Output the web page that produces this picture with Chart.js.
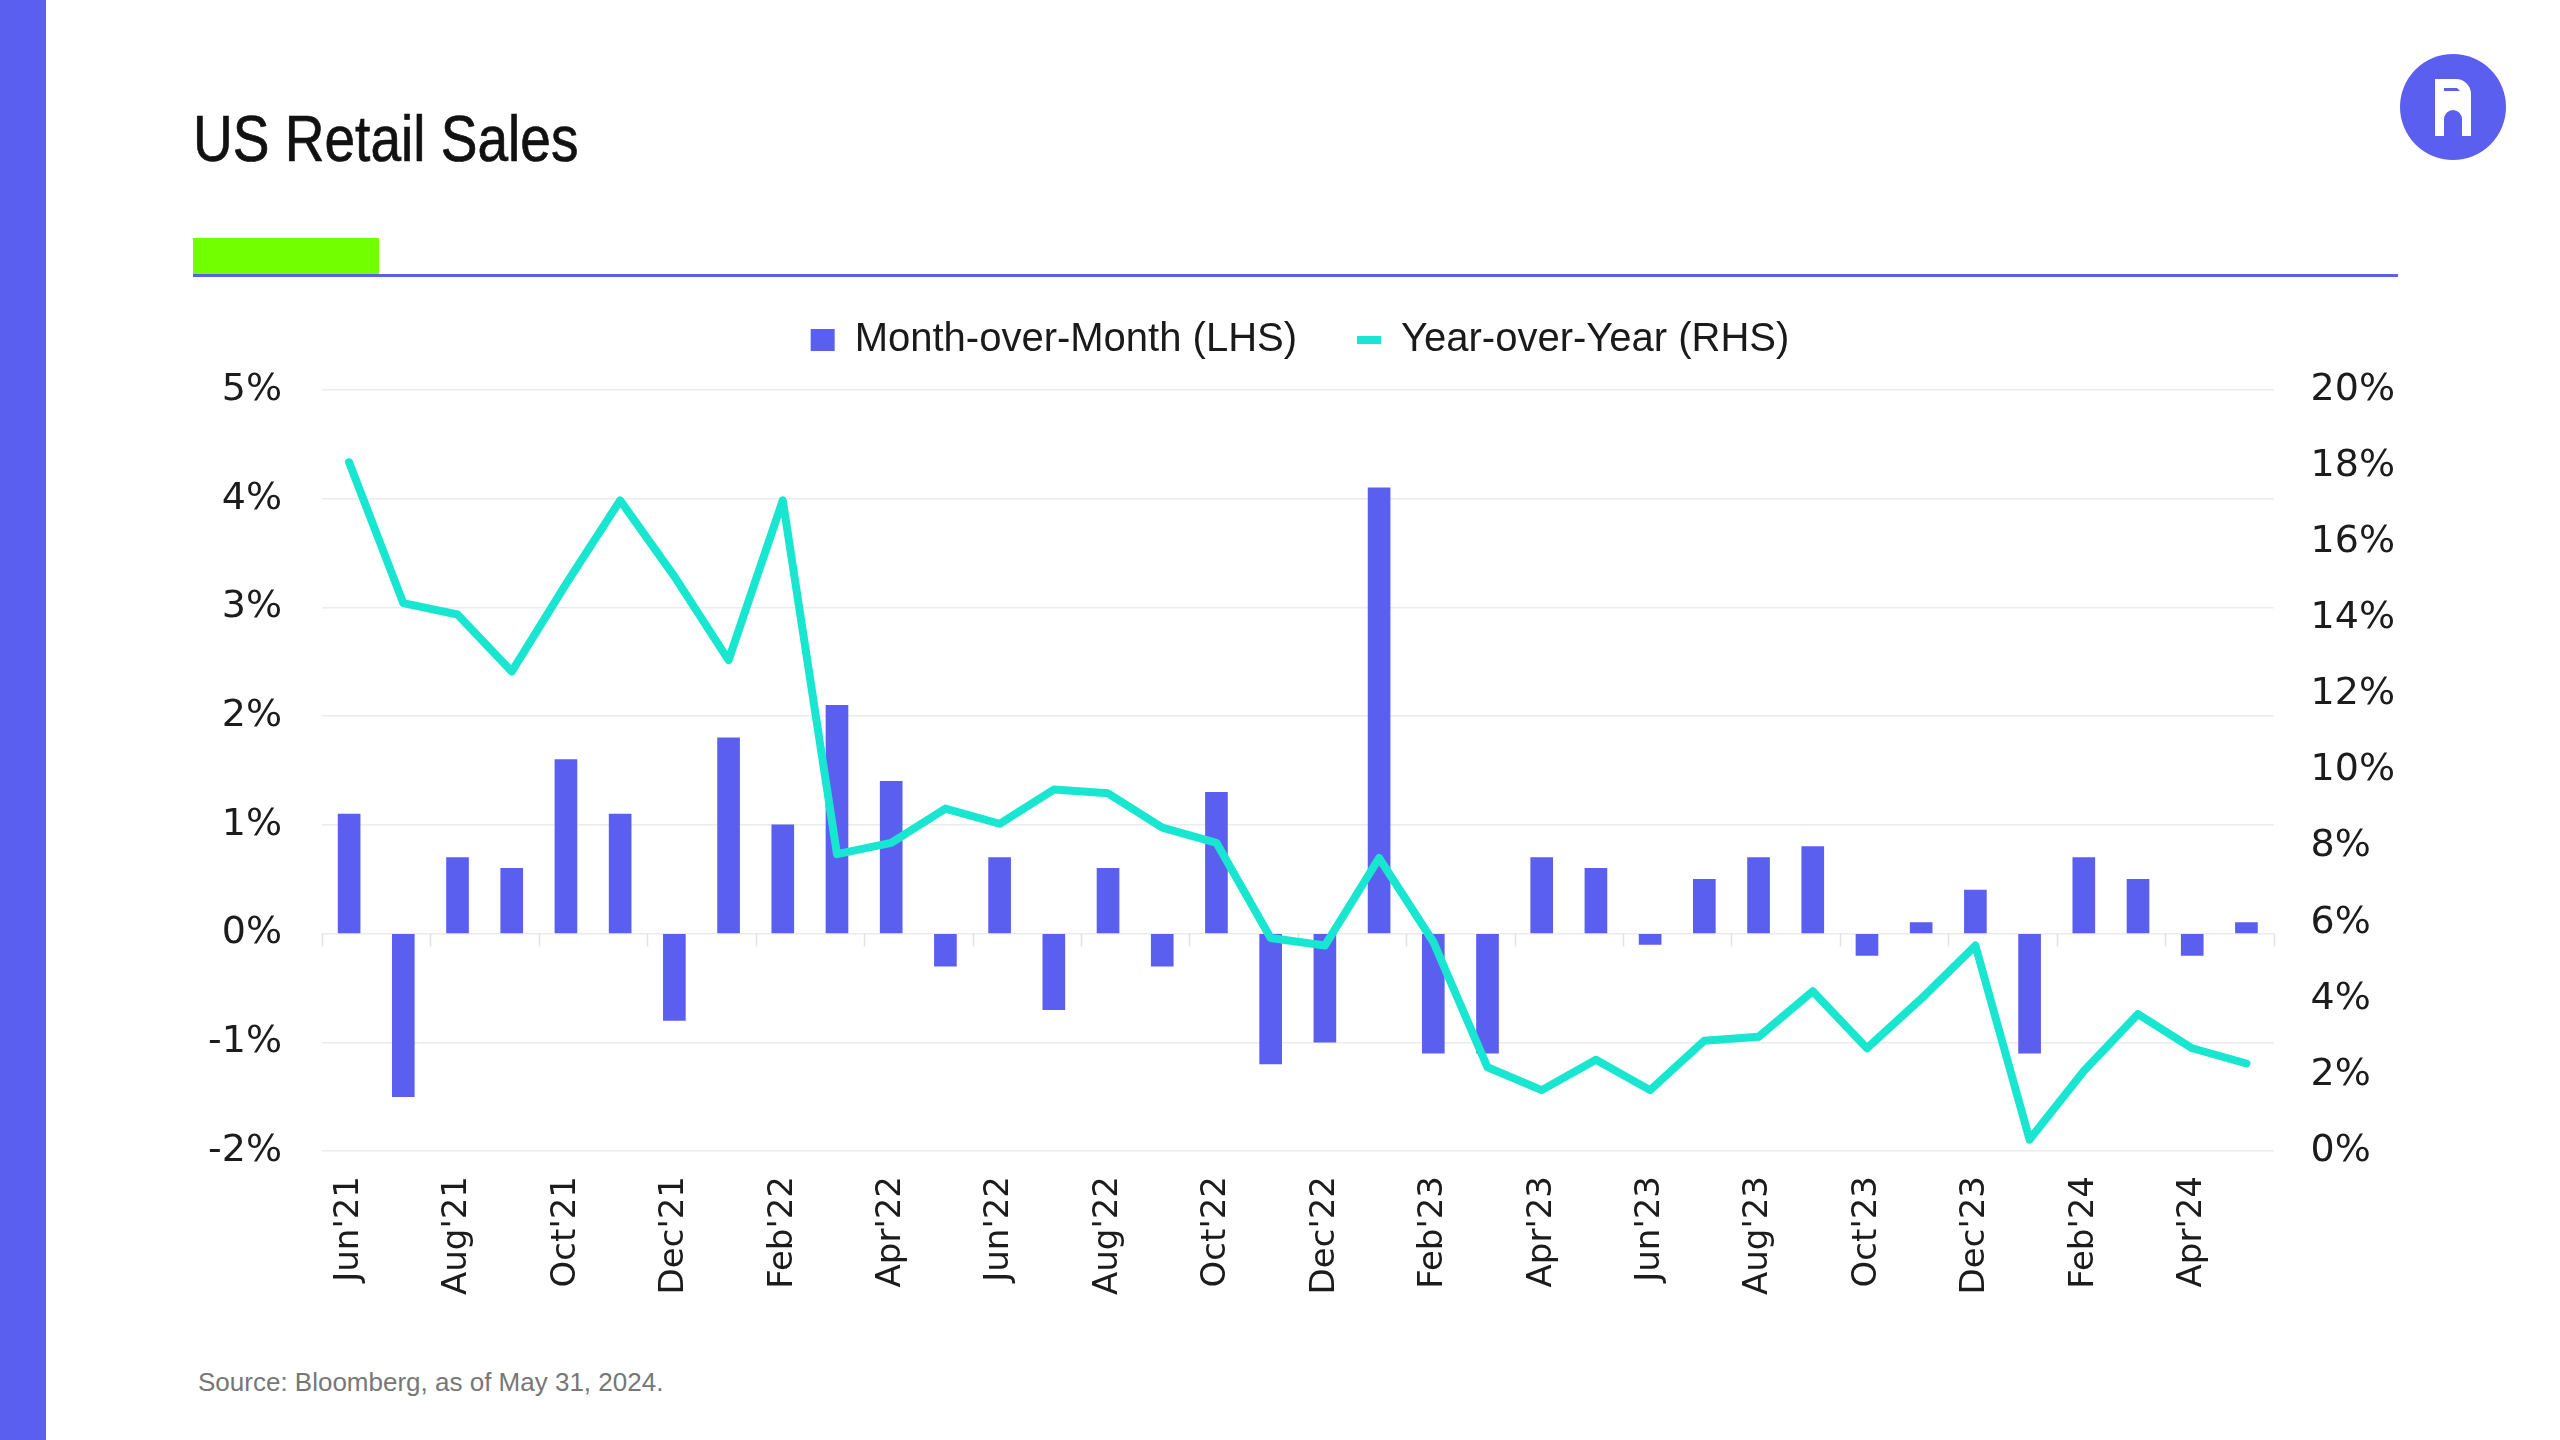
<!DOCTYPE html>
<html>
<head>
<meta charset="utf-8">
<title>US Retail Sales</title>
<script src="https://cdn.jsdelivr.net/npm/chart.js@4.4.1/dist/chart.umd.min.js"></script>
<style>
  html, body { margin: 0; padding: 0; background: #fff; }
  body { width: 2560px; height: 1440px; position: relative; overflow: hidden; font-family: "Liberation Sans", Arial, sans-serif; }
  .band { position: absolute; left: 0; top: 0; width: 46px; height: 1440px; background: #5b5fef; }
  .title { position: absolute; left: 193px; top: 107px; font-size: 64px; line-height: 1; color: #111;
           -webkit-text-stroke: 0.7px #111;
           transform: scaleX(0.86); transform-origin: left top; white-space: nowrap; }
  .accent { position: absolute; left: 193px; top: 238px; width: 186px; height: 37px; background: #72ff00; }
  .rule { position: absolute; left: 193px; top: 274px; width: 2205px; height: 3px; background: #5b5fef; }
  .logo { position: absolute; left: 2400px; top: 54px; width: 106px; height: 106px; border-radius: 50%; background: #5b5fef; }
  .logo svg { position: absolute; left: 35px; top: 25px; }
  .chart-box { position: absolute; left: 168px; top: 260px; width: 2264px; height: 1060px; }
  .source { position: absolute; left: 198px; top: 1369px; font-size: 26px; line-height: 1; color: #777; white-space: nowrap; }
</style>
</head>
<body>
<div class="band"></div>
<div class="title">US Retail Sales</div>
<div class="accent"></div>
<div class="rule"></div>
<div class="logo">
  <svg width="36" height="57" viewBox="0 0 36 57">
    <path d="M0 0 H21 A15 15 0 0 1 36 15 V57 H27 V40 A9 9 0 0 0 9 40 V57 H0 Z" fill="#fff"/>
    <path d="M9 9 H22 L25 12 H9 Z" fill="#5b5fef"/>
  </svg>
</div>
<div class="chart-box"><canvas id="myChart"></canvas></div>
<div class="source">Source: Bloomberg, as of May 31, 2024.</div>

<script>
const months = ["Jun'21", "Jul'21", "Aug'21", "Sep'21", "Oct'21", "Nov'21", "Dec'21",
  "Jan'22", "Feb'22", "Mar'22", "Apr'22", "May'22", "Jun'22", "Jul'22", "Aug'22", "Sep'22", "Oct'22", "Nov'22", "Dec'22",
  "Jan'23", "Feb'23", "Mar'23", "Apr'23", "May'23", "Jun'23", "Jul'23", "Aug'23", "Sep'23", "Oct'23", "Nov'23", "Dec'23",
  "Jan'24", "Feb'24", "Mar'24", "Apr'24", "May'24"];

// month-over-month, % (left axis)
const momValues = [1.1, -1.5, 0.7, 0.6, 1.6, 1.1, -0.8,
  1.8, 1.0, 2.1, 1.4, -0.3, 0.7, -0.7, 0.6, -0.3, 1.3, -1.2, -1.0,
  4.1, -1.1, -1.1, 0.7, 0.6, -0.1, 0.5, 0.7, 0.8, -0.2, 0.1, 0.4,
  -1.1, 0.7, 0.5, -0.2, 0.1];

// year-over-year, % (right axis)
const yoyValues = [18.1, 14.4, 14.1, 12.6, 14.9, 17.1, 15.1,
  12.9, 17.1, 7.8, 8.1, 9.0, 8.6, 9.5, 9.4, 8.5, 8.1, 5.6, 5.4,
  7.7, 5.5, 2.2, 1.6, 2.4, 1.6, 2.9, 3.0, 4.2, 2.7, 4.0, 5.4,
  0.3, 2.1, 3.6, 2.7, 2.3];

const leftTicks = [-2, -1, 0, 1, 2, 3, 4, 5];
const rightTicks = [0, 2, 4, 6, 8, 10, 12, 14, 16, 18, 20];
const seriesNames = ['Month-over-Month (LHS)', 'Year-over-Year (RHS)'];

const purple = '#5b5fef';
const teal = '#19e6d0';
const tickColor = '#1c1c1c';

// small tick marks on the zero line, every two months
const zeroTicks = {
  id: 'zeroTicks',
  beforeDatasetsDraw(chart) {
    const { ctx, scales: { x, y } } = chart;
    const y0 = y.getPixelForValue(0);
    const step = x.getPixelForValue(1) - x.getPixelForValue(0);
    const start = x.getPixelForValue(0) - step / 2;
    ctx.save();
    ctx.strokeStyle = '#e2e2e2';
    ctx.lineWidth = 1.5;
    ctx.beginPath();
    for (let i = 0; i <= months.length; i += 2) {
      const px = Math.round(start + i * step) + 0.5;
      ctx.moveTo(px, y0);
      ctx.lineTo(px, y0 + 13);
    }
    ctx.stroke();
    ctx.restore();
  }
};

// a bit more room under the legend
const legendGap = {
  id: 'legendGap',
  beforeLayout(chart) {
    const lg = chart.legend;
    if (lg && !lg._gapPatched) {
      const fit = lg.fit;
      lg.fit = function () { fit.call(this); this.height += 20; };
      lg._gapPatched = true;
    }
  }
};

const ctx = document.getElementById('myChart').getContext('2d');

const myChart = new Chart(ctx, {
  type: 'bar',
  data: {
    labels: months,
    datasets: [{
      type: 'bar',
      label: seriesNames[0],
      data: momValues,
      backgroundColor: purple,
      borderWidth: 0,
      barThickness: 22,
      yAxisID: 'y',
      order: 1,
      pointStyle: 'rect'
    }, {
      type: 'line',
      label: seriesNames[1],
      data: yoyValues,
      borderColor: teal,
      backgroundColor: teal,
      borderWidth: 8,
      borderJoinStyle: 'round',
      borderCapStyle: 'round',
      tension: 0,
      pointRadius: 0,
      pointHoverRadius: 0,
      yAxisID: 'y1',
      order: 0,
      pointStyle: 'line'
    }]
  },
  options: {
    responsive: true,
    maintainAspectRatio: false,
    animation: false,
    devicePixelRatio: 1,
    layout: { padding: 0 },
    plugins: {
      tooltip: { enabled: false },
      legend: {
        position: 'top',
        labels: {
          usePointStyle: true,
          pointStyleWidth: 24,
          boxHeight: 22,
          padding: 60,
          color: '#1a1a1a',
          font: { family: '"Liberation Sans", Arial, sans-serif', size: 40 },
          generateLabels: (chart) => {
            const items = Chart.defaults.plugins.legend.labels.generateLabels(chart);
            return items.sort((a, b) => seriesNames.indexOf(a.text) - seriesNames.indexOf(b.text));
          }
        }
      }
    },
    scales: {
      x: {
        offset: true,
        grid: { display: false, drawTicks: false },
        border: { display: false },
        ticks: {
          autoSkip: false,
          minRotation: 90,
          maxRotation: 90,
          padding: 25,
          color: tickColor,
          font: { family: '"DejaVu Sans", sans-serif', size: 34 },
          callback: (v, i) => (i % 2 === 0 ? months[i] : '')
        }
      },
      y: {
        position: 'left',
        min: leftTicks[0],
        max: leftTicks[leftTicks.length - 1],
        afterBuildTicks: (axis) => { axis.ticks = leftTicks.map(v => ({ value: v })); },
        grid: { color: '#ebebeb', lineWidth: 1.5, drawTicks: false },
        border: { display: false },
        ticks: {
          padding: 40,
          color: tickColor,
          font: { family: '"DejaVu Sans", sans-serif', size: 38 },
          callback: (v) => v + '%'
        }
      },
      y1: {
        position: 'right',
        min: rightTicks[0],
        max: rightTicks[rightTicks.length - 1],
        afterBuildTicks: (axis) => { axis.ticks = rightTicks.map(v => ({ value: v })); },
        grid: { drawOnChartArea: false, drawTicks: false },
        border: { display: false },
        ticks: {
          padding: 37,
          color: tickColor,
          font: { family: '"DejaVu Sans", sans-serif', size: 38 },
          callback: (v) => v + '%'
        }
      }
    }
  },
  plugins: [zeroTicks, legendGap]
});
</script>
</body>
</html>
